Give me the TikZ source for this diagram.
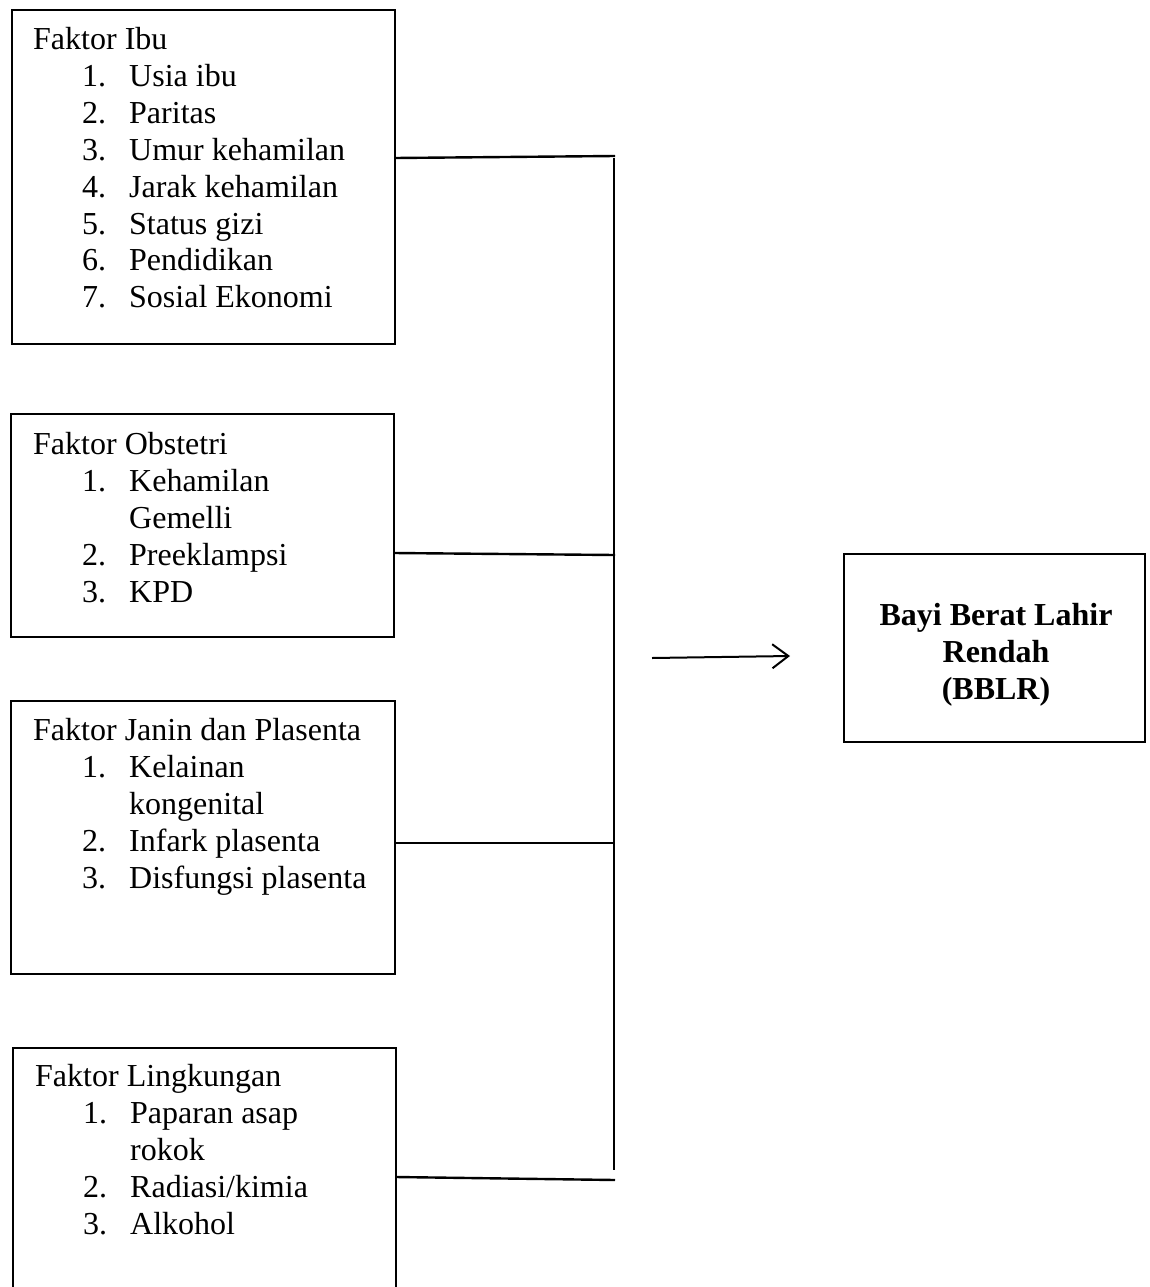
\documentclass[tikz,border=0pt]{standalone}
\usepackage{fontspec}
\setmainfont{Liberation Serif}
\usetikzlibrary{arrows.meta}
\begin{document}
\begin{tikzpicture}[x=1pt,y=-1pt,
  box/.style={draw,line width=2.8pt,rectangle,inner sep=0pt,outer sep=0pt,anchor=north west},
  link/.style={line width=2.4pt},
  txt/.style={anchor=base west,inner sep=0pt,font=\fontsize{32}{37}\selectfont},
]
\clip (0,0) rectangle (1150,1287);
\fill[white] (0,0) rectangle (1150,1287);

% boxes
\node[box,minimum width=383pt,minimum height=334pt] (b1) at (12,10) {};
\node[box,minimum width=383pt,minimum height=223pt] (b2) at (11,414) {};
\node[box,minimum width=384pt,minimum height=273pt] (b3) at (11,701) {};
\node[box,minimum width=383pt,minimum height=300pt] (b4) at (13,1048) {};
\node[box,minimum width=301pt,minimum height=188pt] (out) at (844,554) {};

% box 1 text
\node[txt] (h1) at (33,50) {Faktor Ibu};
\foreach \t [count=\i] in {Usia ibu, Paritas, Umur kehamilan, Jarak kehamilan, Status gizi, Pendidikan, Sosial Ekonomi} {
  \node[txt] (n1-\i) at (82,50+36.8*\i) {\i.};
  \node[txt] (t1-\i) at (129,50+36.8*\i) {\t};
}

% box 2 text
\node[txt] (h2) at (33,454) {Faktor Obstetri};
\node[txt] (n2-1) at (82,491) {1.};
\node[txt] (t2-1) at (129,491) {Kehamilan};
\node[txt] (t2-1b) at (129,528) {Gemelli};
\node[txt] (n2-2) at (82,565) {2.};
\node[txt] (t2-2) at (129,565) {Preeklampsi};
\node[txt] (n2-3) at (82,602) {3.};
\node[txt] (t2-3) at (129,602) {KPD};

% box 3 text
\node[txt] (h3) at (33,740) {Faktor Janin dan Plasenta};
\node[txt] (n3-1) at (82,777) {1.};
\node[txt] (t3-1) at (129,777) {Kelainan};
\node[txt] (t3-1b) at (129,814) {kongenital};
\node[txt] (n3-2) at (82,851) {2.};
\node[txt] (t3-2) at (129,851) {Infark plasenta};
\node[txt] (n3-3) at (82,888) {3.};
\node[txt] (t3-3) at (129,888) {Disfungsi plasenta};

% box 4 text
\node[txt] (h4) at (35,1086) {Faktor Lingkungan};
\node[txt] (n4-1) at (83,1123) {1.};
\node[txt] (t4-1) at (130,1123) {Paparan asap};
\node[txt] (t4-1b) at (130,1160) {rokok};
\node[txt] (n4-2) at (83,1197) {2.};
\node[txt] (t4-2) at (130,1197) {Radiasi/kimia};
\node[txt] (n4-3) at (83,1234) {3.};
\node[txt] (t4-3) at (130,1234) {Alkohol};

% output text
\node[align=center,inner sep=0pt,font=\fontsize{32}{37}\selectfont\bfseries] (outtxt) at (996,655)
  {Bayi Berat Lahir\\Rendah\\(BBLR)};

% connector points
\coordinate (c1) at (395,158);
\coordinate (c2) at (394,553);
\coordinate (c3) at (395,843);
\coordinate (c4) at (396,1177);
\coordinate (v1) at (615,156);
\coordinate (v2) at (615,555);
\coordinate (v3) at (615,843);
\coordinate (v4) at (615,1180);
\coordinate (vt) at (614,158);
\coordinate (vb) at (614,1170);
\coordinate (a0) at (652,658);
\coordinate (a1) at (790,656);

\draw[link] (c1) -- (v1);
\draw[link] (c2) -- (v2);
\draw[link] (c3) -- (v3);
\draw[link] (c4) -- (v4);
\draw[link] (vt) -- (vb);
\draw[line width=2pt,-{Straight Barb[length=16pt,width=24pt,line width=2pt]}] (a0) -- (a1);
\end{tikzpicture}
\end{document}
